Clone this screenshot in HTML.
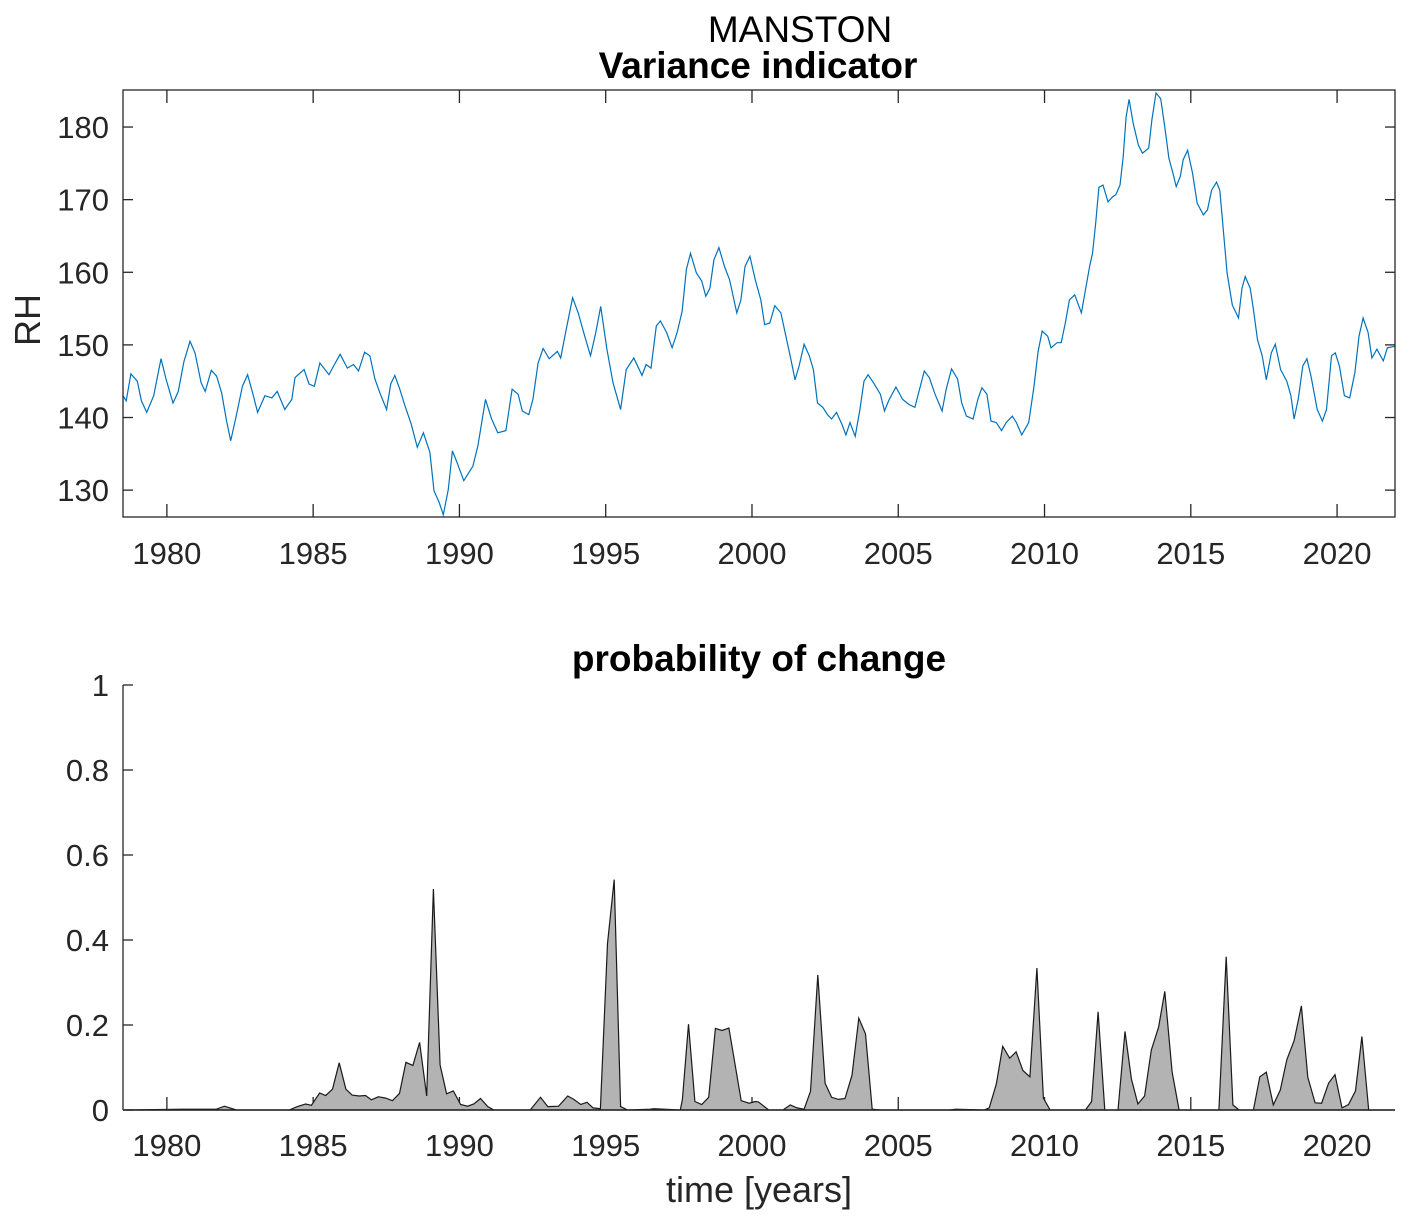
<!DOCTYPE html>
<html><head><meta charset="utf-8"><style>
body{margin:0;background:#fff;}
svg{display:block;font-family:"Liberation Sans",Arial,sans-serif;}
.tk{font-size:31px;fill:#262626;}
</style></head><body>
<svg id="chart" width="1410" height="1224" viewBox="0 0 1410 1224" xmlns="http://www.w3.org/2000/svg">
<rect width="1410" height="1224" fill="#fff"/>
<text x="800" y="42" text-anchor="middle" font-size="37" fill="#000">MANSTON</text>
<text x="758" y="78" text-anchor="middle" font-size="37" font-weight="bold" fill="#000">Variance indicator</text>
<text x="759" y="671" text-anchor="middle" font-size="37" font-weight="bold" fill="#000">probability of change</text>
<text transform="translate(40,320) rotate(-90)" text-anchor="middle" font-size="36" fill="#262626">RH</text>
<text x="759" y="1202" text-anchor="middle" font-size="36" fill="#262626">time [years]</text>
<g id="topg"></g>
<g id="botg"></g>
</svg>
<script>
const years = [1980,1985,1990,1995,2000,2005,2010,2015,2020];
const rhTicks = [130,140,150,160,170,180];
const probTicks = [0,0.2,0.4,0.6,0.8,1];
const probTickLabels = ["0","0.2","0.4","0.6","0.8","1"];
const rhT = [1978.5,1978.61,1978.77,1978.99,1979.13,1979.31,1979.55,1979.8,1979.97,1980.21,1980.39,1980.58,1980.79,1980.96,1981.17,1981.31,1981.52,1981.7,1981.87,1982.04,1982.18,1982.37,1982.58,1982.76,1982.93,1983.1,1983.35,1983.59,1983.77,1984.03,1984.27,1984.38,1984.69,1984.86,1985.04,1985.23,1985.54,1985.7,1985.92,1986.17,1986.38,1986.55,1986.76,1986.94,1987.11,1987.3,1987.51,1987.65,1987.79,1987.96,1988.14,1988.35,1988.56,1988.77,1988.99,1989.13,1989.31,1989.45,1989.62,1989.76,1989.9,1990.15,1990.46,1990.63,1990.89,1991.1,1991.31,1991.59,1991.8,1992.01,1992.15,1992.37,1992.51,1992.69,1992.86,1993.07,1993.35,1993.46,1993.63,1993.87,1994.06,1994.27,1994.48,1994.66,1994.83,1995.04,1995.25,1995.51,1995.7,1995.96,1996.24,1996.38,1996.55,1996.73,1996.87,1997.08,1997.27,1997.44,1997.61,1997.76,1997.9,1998.1,1998.28,1998.42,1998.56,1998.7,1998.87,1999.06,1999.23,1999.48,1999.62,1999.76,1999.93,2000.11,2000.3,2000.43,2000.61,2000.78,2000.99,2001.17,2001.33,2001.47,2001.61,2001.78,2001.96,2002.1,2002.24,2002.42,2002.58,2002.72,2002.89,2003.07,2003.21,2003.35,2003.53,2003.69,2003.83,2003.97,2004.18,2004.39,2004.53,2004.67,2004.92,2005.15,2005.36,2005.57,2005.71,2005.89,2006.06,2006.26,2006.5,2006.64,2006.82,2007.03,2007.17,2007.33,2007.56,2007.72,2007.86,2008.03,2008.17,2008.35,2008.53,2008.69,2008.9,2009.04,2009.22,2009.46,2009.64,2009.78,2009.92,2010.11,2010.22,2010.43,2010.57,2010.71,2010.85,2011.03,2011.26,2011.4,2011.54,2011.64,2011.75,2011.86,2012,2012.17,2012.33,2012.44,2012.58,2012.69,2012.79,2012.89,2013.03,2013.21,2013.35,2013.56,2013.67,2013.81,2013.97,2014.11,2014.25,2014.39,2014.5,2014.64,2014.74,2014.89,2015.06,2015.22,2015.43,2015.57,2015.71,2015.88,2015.99,2016.13,2016.24,2016.42,2016.63,2016.75,2016.86,2017.03,2017.14,2017.28,2017.44,2017.58,2017.75,2017.89,2018.07,2018.28,2018.42,2018.53,2018.67,2018.83,2018.97,2019.11,2019.32,2019.5,2019.64,2019.81,2019.94,2020.08,2020.25,2020.43,2020.61,2020.75,2020.89,2021.06,2021.19,2021.36,2021.58,2021.72,2021.98];
const rhV = [143,142.3,146,145,142.3,140.7,143,148.1,145.3,142,143.6,147.7,150.5,148.9,144.8,143.6,146.5,145.7,143.4,139.5,136.8,140.2,144.3,145.9,143.4,140.7,143,142.7,143.6,141.1,142.5,145.5,146.6,144.6,144.3,147.5,145.9,147.1,148.7,146.8,147.3,146.4,149,148.5,145.3,143.2,141.1,144.6,145.8,143.9,141.6,139.1,135.9,137.9,135.2,129.9,128.3,126.6,130.1,135.4,134,131.3,133.3,136.1,142.5,139.8,137.9,138.2,143.9,143.2,140.9,140.4,142.5,147.5,149.5,148.1,149.1,148.2,151.7,156.5,154.4,151.4,148.5,151.7,155.3,149.4,144.8,141.1,146.6,148.2,145.8,147.3,146.8,152.6,153.3,151.7,149.6,151.7,154.6,160.4,162.6,159.9,158.8,156.7,157.8,161.7,163.4,160.8,159,154.4,156.2,160.8,162.2,159,156.2,152.8,153,155.4,154.4,151,148,145.2,147.1,150.1,148.5,146.6,142,141.4,140.4,139.8,140.7,139.1,137.6,139.3,137.4,141.1,145,145.9,144.6,143.2,140.9,142.3,144.2,142.5,141.8,141.4,143.6,146.4,145.5,143.2,140.9,143.9,146.7,145.3,142,140.2,139.8,142.5,144.1,143.2,139.5,139.3,138.2,139.3,140.2,139.3,137.6,139.3,144.3,149.1,151.9,151.2,149.6,150.3,150.3,153,156.2,156.9,154.4,157.6,160.8,162.6,166.8,171.7,172,169.7,170.4,170.7,172,175.9,181.4,183.8,180.5,177.5,176.4,177.1,181,184.7,183.9,180,175.7,173.6,171.8,173.2,175.5,176.8,173.6,169.5,167.9,168.6,171.3,172.4,171.3,164.9,159.9,155.5,153.7,157.8,159.4,157.8,154.9,150.7,148.5,145.2,148.9,150.1,146.6,145,143,139.8,142.5,147.1,148.1,145.7,141.1,139.5,141.1,148.5,148.9,147.1,143,142.7,146.2,151.2,153.7,151.7,148.2,149.4,147.8,149.6,149.8];
const pT = [1978.5,1980.51,1981.69,1981.97,1982.38,1984.18,1984.46,1984.74,1984.94,1985.22,1985.43,1985.66,1985.89,1986.12,1986.33,1986.57,1986.79,1986.99,1987.23,1987.48,1987.71,1987.95,1988.17,1988.41,1988.64,1988.88,1989.11,1989.34,1989.56,1989.79,1990.04,1990.28,1990.49,1990.72,1990.97,1991.18,1992.42,1992.77,1993.02,1993.39,1993.7,1993.91,1994.15,1994.36,1994.57,1994.82,1995.06,1995.29,1995.51,1995.75,1996.51,1996.65,1997.55,1997.62,1997.83,1998.05,1998.28,1998.52,1998.75,1998.98,1999.21,1999.63,1999.9,2000.11,2000.22,2000.57,2001.06,2001.31,2001.54,2001.78,2002,2002.25,2002.5,2002.72,2002.96,2003.18,2003.42,2003.65,2003.88,2004.11,2004.39,2006.75,2006.96,2007.93,2008.11,2008.35,2008.57,2008.81,2009.03,2009.26,2009.5,2009.74,2009.96,2010.19,2011.4,2011.61,2011.83,2012.06,2012.51,2012.75,2012.97,2013.19,2013.42,2013.65,2013.9,2014.11,2014.36,2014.6,2015.96,2016.21,2016.44,2016.65,2017.14,2017.36,2017.58,2017.82,2018.06,2018.28,2018.53,2018.78,2019,2019.25,2019.47,2019.71,2019.93,2020.17,2020.39,2020.63,2020.85,2021.08,2021.98];
const pV = [0,0.002,0.002,0.009,0,0,0.008,0.014,0.011,0.04,0.034,0.049,0.111,0.049,0.035,0.033,0.034,0.024,0.031,0.028,0.022,0.039,0.112,0.105,0.159,0.033,0.52,0.106,0.038,0.045,0.013,0.009,0.014,0.027,0.008,0,0,0.03,0.008,0.009,0.033,0.025,0.013,0.018,0.005,0.003,0.392,0.542,0.008,0,0.002,0.003,0,0.025,0.202,0.02,0.013,0.03,0.192,0.187,0.193,0.022,0.016,0.02,0.019,0,0,0.012,0.005,0.002,0.044,0.318,0.063,0.03,0.025,0.027,0.082,0.216,0.179,0.002,0,0,0.002,0,0.005,0.061,0.15,0.122,0.137,0.093,0.078,0.334,0.028,0,0,0.02,0.231,0,0,0.185,0.073,0.014,0.033,0.141,0.195,0.279,0.09,0,0,0.361,0.012,0,0,0.078,0.089,0.012,0.047,0.118,0.163,0.245,0.077,0.017,0.016,0.063,0.083,0.005,0.013,0.045,0.173,0,0];

const NS='http://www.w3.org/2000/svg';
const L=123,R=1395,X0=1978.5,X1=2021.98;
function xs(t){return L+(t-X0)/(X1-X0)*(R-L);}
const TT=90,TB=517,Y0=126.3,Y1=185.1;
function ys(v){return TB-(v-Y0)/(Y1-Y0)*(TB-TT);}
const BT=685,BB=1110;
function yp(v){return BB-v*(BB-BT);}
function mk(tag,attrs,parent){const e=document.createElementNS(NS,tag);for(const k in attrs)e.setAttribute(k,attrs[k]);parent.appendChild(e);return e;}
const topG=document.getElementById('topg'),botG=document.getElementById('botg');

let d='';rhT.forEach((t,i)=>{d+=(i?'L':'M')+xs(t).toFixed(1)+' '+ys(rhV[i]).toFixed(1);});
const line=mk('path',{d:d,fill:'none',stroke:'#0072BD','stroke-width':1.2},topG);


const box=mk('rect',{x:L,y:TT,width:R-L,height:TB-TT,fill:'none',stroke:'#262626','stroke-width':1.3},topG);


rhTicks.forEach(v=>{const y=ys(v);
 mk('line',{x1:L,x2:L+10,y1:y,y2:y,stroke:'#262626','stroke-width':1.3},topG);
 mk('line',{x1:R,x2:R-10,y1:y,y2:y,stroke:'#262626','stroke-width':1.3},topG);
 const t=mk('text',{x:L-14,y:y+11,'text-anchor':'end',class:'tk'},topG);t.textContent=v;
 
 
});
years.forEach(yr=>{const x=xs(yr);
 mk('line',{x1:x,x2:x,y1:TB,y2:TB-13,stroke:'#262626','stroke-width':1.3},topG);
 mk('line',{x1:x,x2:x,y1:TT,y2:TT+13,stroke:'#262626','stroke-width':1.3},topG);
 const t=mk('text',{x:x,y:TB+47,'text-anchor':'middle',class:'tk'},topG);t.textContent=yr;
 
 
 const t2=mk('text',{x:x,y:BB+46,'text-anchor':'middle',class:'tk'},botG);t2.textContent=yr;
 
 
 mk('line',{x1:x,x2:x,y1:BB,y2:BB-13,stroke:'#262626','stroke-width':1.3},botG);
});
let a='M'+xs(pT[0]).toFixed(1)+' '+yp(0);
pT.forEach((t,i)=>{a+='L'+xs(t).toFixed(1)+' '+yp(pV[i]).toFixed(1);});
a+='L'+xs(pT[pT.length-1]).toFixed(1)+' '+yp(0)+'Z';
const area=mk('path',{d:a,fill:'#b3b3b3',stroke:'#1a1a1a','stroke-width':1.2},botG);


mk('line',{x1:L,x2:L,y1:BT,y2:BB,stroke:'#262626','stroke-width':1.3},botG);
mk('line',{x1:L,x2:R,y1:BB,y2:BB,stroke:'#262626','stroke-width':1.5},botG);
probTicks.forEach((v,i)=>{const y=yp(v);
 mk('line',{x1:L,x2:L+10,y1:y,y2:y,stroke:'#262626','stroke-width':1.3},botG);
 const t=mk('text',{x:L-14,y:y+11,'text-anchor':'end',class:'tk'},botG);t.textContent=probTickLabels[i];
 
 
});
</script>
</body></html>
